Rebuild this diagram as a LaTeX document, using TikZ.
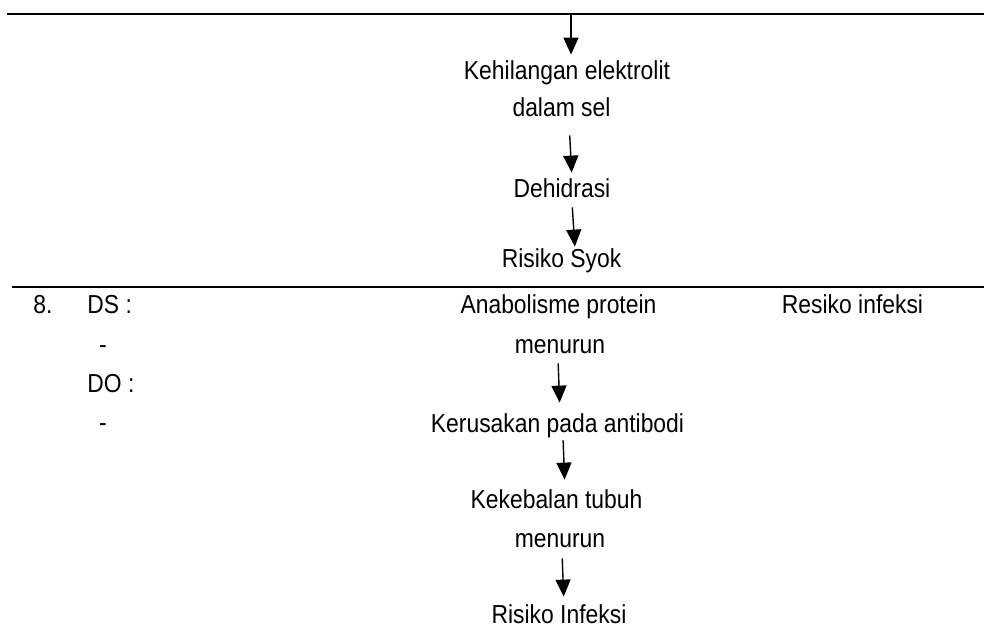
\documentclass[tikz,border=0pt]{standalone}
\usepackage{fontspec}
\setmainfont{Liberation Sans}[FakeStretch=0.88]
\usetikzlibrary{arrows.meta}

\tikzset{
    txt/.style={anchor=base, inner sep=0pt, text height=9pt, text depth=2.5pt,
        font=\fontsize{13pt}{15pt}\selectfont},
    lft/.style={txt, anchor=base west},
    arr/.style={line width=0.7pt, -{Triangle[width=7.5pt,length=8.5pt]}},
    rule/.style={line width=1pt}
}

\begin{document}
\begin{tikzpicture}[x=0.5pt, y=-0.5pt]
\useasboundingbox (0,0) rectangle (984,631);
%%   table rules
    \draw[rule] (7,14) -- (984,14);
    \draw[rule] (12,287) -- (984,287);
    \coordinate (top) at (571,15);

%%   kw   (name)   (x, y)   {text}
    \node[txt] (kel) at (567, 80)     {Kehilangan elektrolit};
    \node[txt] (dal) at (561.5, 117)  {dalam sel};
    \node[txt] (deh) at (562, 197)    {Dehidrasi};
    \node[txt] (syk) at (561.5, 267)  {Risiko Syok};

    \node[lft] (no) at (33, 313)      {8.};
    \node[lft] (ds) at (87, 313)      {DS :};
    \node[txt] (ds1) at (103, 353)    {-};
    \node[lft] (do) at (87, 392)      {DO :};
    \node[txt] (do1) at (103, 431)    {-};

    \node[txt] (ana) at (558.5, 313)  {Anabolisme protein};
    \node[txt] (mn1) at (560, 353)    {menurun};
    \node[txt] (ker) at (557.5, 432)  {Kerusakan pada antibodi};
    \node[txt] (keb) at (556.5, 508)  {Kekebalan tubuh};
    \node[txt] (mn2) at (560, 547)    {menurun};
    \node[txt] (inf) at (559, 623)    {Risiko Infeksi};
    \node[txt] (dx) at (852.5, 313)   {Resiko infeksi};

    \draw[arr, shorten >=3.5pt] (top) -- ([xshift=2pt]kel.north);
    \draw[arr, shorten <=6.5pt, shorten >=3pt] ([xshift=3.75pt]dal.south) -- ([xshift=5pt]deh.north);
    \draw[arr, shorten <=2.5pt, shorten >=1pt] ([xshift=5pt]deh.south) -- ([xshift=6.75pt]syk.north);
    \draw[arr, shorten <=2.5pt, shorten >=5.5pt] ([xshift=-1pt]mn1.south) -- ([xshift=1.25pt]ker.north);
    \draw[arr, shorten <=1.5pt, shorten >=5pt] ([xshift=2.75pt]ker.south) -- ([xshift=4.25pt]keb.north);
    \draw[arr, shorten <=3pt, shorten >=4pt] ([xshift=1pt]mn2.south) -- ([xshift=2.5pt]inf.north);
\end{tikzpicture}
\end{document}
